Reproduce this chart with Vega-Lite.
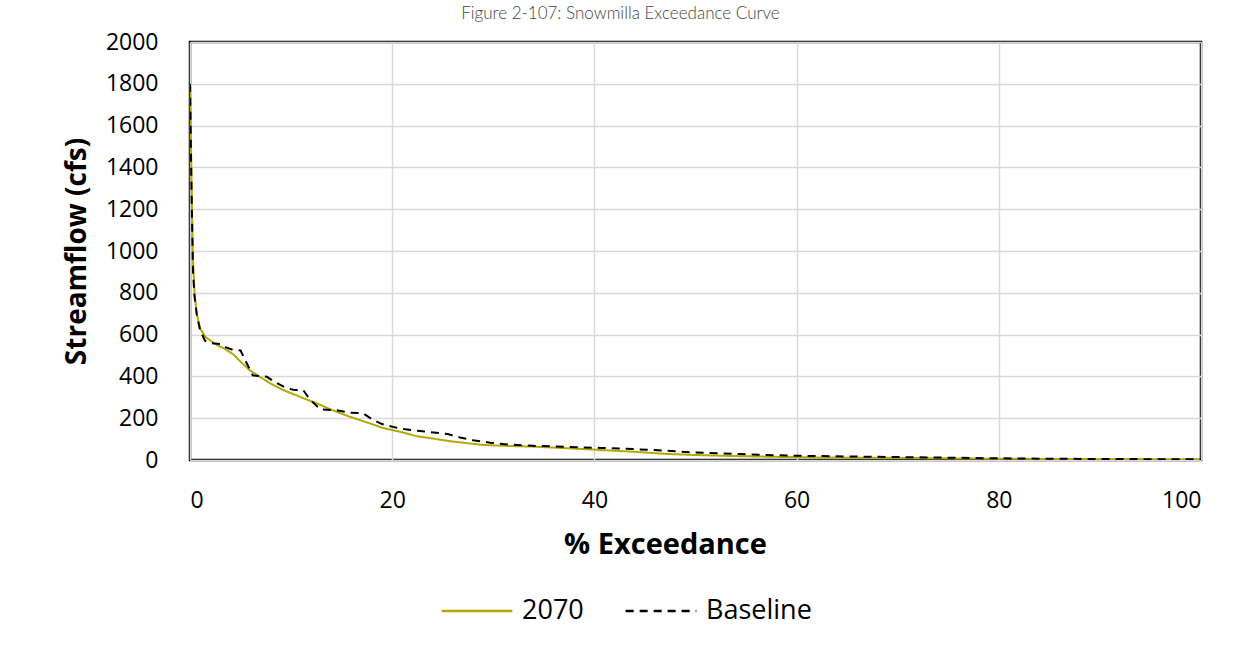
{
  "$schema": "https://vega.github.io/schema/vega-lite/v6.json",
  "width": 1011,
  "height": 418,
  "autosize": {"type": "none"},
  "padding": {"left": 190, "top": 42, "right": 43, "bottom": 190},
  "background": "white",
  "title": {
    "text": "Figure 2-107: Snowmilla Exceedance Curve",
    "anchor": "middle",
    "dx": -75,
    "offset": 8,
    "fontSize": 17,
    "font": "Lato",
    "fontWeight": 300,
    "color": "#444444"
  },
  "data": {
    "values": [
      {"x": 0, "y": 1780, "s": "2070"},
      {"x": 0.1, "y": 1500, "s": "2070"},
      {"x": 0.2, "y": 1200, "s": "2070"},
      {"x": 0.3, "y": 950, "s": "2070"},
      {"x": 0.45, "y": 800, "s": "2070"},
      {"x": 0.66, "y": 700, "s": "2070"},
      {"x": 1.0, "y": 630, "s": "2070"},
      {"x": 1.5, "y": 590, "s": "2070"},
      {"x": 2.5, "y": 555, "s": "2070"},
      {"x": 3.5, "y": 530, "s": "2070"},
      {"x": 4.3, "y": 505, "s": "2070"},
      {"x": 5.0, "y": 470, "s": "2070"},
      {"x": 5.9, "y": 430, "s": "2070"},
      {"x": 7.0, "y": 395, "s": "2070"},
      {"x": 8.0, "y": 365, "s": "2070"},
      {"x": 9.2, "y": 335, "s": "2070"},
      {"x": 10.5, "y": 310, "s": "2070"},
      {"x": 11.5, "y": 290, "s": "2070"},
      {"x": 12.5, "y": 272, "s": "2070"},
      {"x": 14, "y": 240, "s": "2070"},
      {"x": 15.8, "y": 207, "s": "2070"},
      {"x": 17.5, "y": 180, "s": "2070"},
      {"x": 19.1, "y": 153, "s": "2070"},
      {"x": 20.8, "y": 135, "s": "2070"},
      {"x": 22.4, "y": 114, "s": "2070"},
      {"x": 24, "y": 103, "s": "2070"},
      {"x": 25.7, "y": 90, "s": "2070"},
      {"x": 27.5, "y": 80, "s": "2070"},
      {"x": 29, "y": 72, "s": "2070"},
      {"x": 31, "y": 68, "s": "2070"},
      {"x": 33.9, "y": 64, "s": "2070"},
      {"x": 37, "y": 57, "s": "2070"},
      {"x": 40.6, "y": 48, "s": "2070"},
      {"x": 44, "y": 39, "s": "2070"},
      {"x": 47.2, "y": 29, "s": "2070"},
      {"x": 50, "y": 24, "s": "2070"},
      {"x": 53.7, "y": 19, "s": "2070"},
      {"x": 58, "y": 15, "s": "2070"},
      {"x": 62, "y": 12, "s": "2070"},
      {"x": 66, "y": 11, "s": "2070"},
      {"x": 70, "y": 10, "s": "2070"},
      {"x": 75, "y": 8, "s": "2070"},
      {"x": 80, "y": 6, "s": "2070"},
      {"x": 85, "y": 5, "s": "2070"},
      {"x": 90, "y": 4, "s": "2070"},
      {"x": 95, "y": 3, "s": "2070"},
      {"x": 100, "y": 2, "s": "2070"},
      {"x": 0, "y": 1800, "s": "Baseline"},
      {"x": 0.1, "y": 1450, "s": "Baseline"},
      {"x": 0.2, "y": 1150, "s": "Baseline"},
      {"x": 0.3, "y": 900, "s": "Baseline"},
      {"x": 0.45, "y": 780, "s": "Baseline"},
      {"x": 0.66, "y": 700, "s": "Baseline"},
      {"x": 1.0, "y": 620, "s": "Baseline"},
      {"x": 1.5, "y": 570, "s": "Baseline"},
      {"x": 2.0, "y": 560, "s": "Baseline"},
      {"x": 3.0, "y": 555, "s": "Baseline"},
      {"x": 3.5, "y": 540, "s": "Baseline"},
      {"x": 4.3, "y": 526, "s": "Baseline"},
      {"x": 5.0, "y": 524, "s": "Baseline"},
      {"x": 5.6, "y": 464, "s": "Baseline"},
      {"x": 6.2, "y": 405, "s": "Baseline"},
      {"x": 7.6, "y": 398, "s": "Baseline"},
      {"x": 8.5, "y": 370, "s": "Baseline"},
      {"x": 9.5, "y": 345, "s": "Baseline"},
      {"x": 10.2, "y": 336, "s": "Baseline"},
      {"x": 11.2, "y": 334, "s": "Baseline"},
      {"x": 11.9, "y": 287, "s": "Baseline"},
      {"x": 12.9, "y": 242, "s": "Baseline"},
      {"x": 14.5, "y": 238, "s": "Baseline"},
      {"x": 15.8, "y": 226, "s": "Baseline"},
      {"x": 17.1, "y": 224, "s": "Baseline"},
      {"x": 18.1, "y": 192, "s": "Baseline"},
      {"x": 19.0, "y": 172, "s": "Baseline"},
      {"x": 20.8, "y": 150, "s": "Baseline"},
      {"x": 22.5, "y": 140, "s": "Baseline"},
      {"x": 24.7, "y": 129, "s": "Baseline"},
      {"x": 25.5, "y": 124, "s": "Baseline"},
      {"x": 26.7, "y": 108, "s": "Baseline"},
      {"x": 28, "y": 95, "s": "Baseline"},
      {"x": 29.7, "y": 83, "s": "Baseline"},
      {"x": 31.5, "y": 74, "s": "Baseline"},
      {"x": 33.9, "y": 68, "s": "Baseline"},
      {"x": 37, "y": 63, "s": "Baseline"},
      {"x": 40.6, "y": 58, "s": "Baseline"},
      {"x": 44, "y": 52, "s": "Baseline"},
      {"x": 47.2, "y": 44, "s": "Baseline"},
      {"x": 50, "y": 36, "s": "Baseline"},
      {"x": 53.7, "y": 30, "s": "Baseline"},
      {"x": 57, "y": 24, "s": "Baseline"},
      {"x": 60.3, "y": 20, "s": "Baseline"},
      {"x": 65, "y": 17, "s": "Baseline"},
      {"x": 70, "y": 14, "s": "Baseline"},
      {"x": 75, "y": 11, "s": "Baseline"},
      {"x": 80, "y": 8, "s": "Baseline"},
      {"x": 85, "y": 6, "s": "Baseline"},
      {"x": 90, "y": 5, "s": "Baseline"},
      {"x": 95, "y": 4, "s": "Baseline"},
      {"x": 100, "y": 3, "s": "Baseline"}
    ]
  },
  "mark": {"type": "line", "strokeWidth": 2, "clip": true},
  "encoding": {
    "x": {
      "field": "x",
      "type": "quantitative",
      "scale": {"domain": [0, 100], "nice": false},
      "axis": {
        "values": [0, 20, 40, 60, 80, 100],
        "title": "% Exceedance",
        "titleFontSize": 29,
        "titleFont": "Open Sans",
        "titleFontWeight": "bold",
        "titleColor": "#000000",
        "titlePadding": 18,
        "titleX": 475,
        "titleAlign": "center",
        "labelFontSize": 23,
        "labelFont": "Open Sans",
        "labelColor": "#000000",
        "labelPadding": 29,
        "ticks": false,
        "domain": false,
        "gridColor": "#d9d9d9",
        "gridWidth": 1.5
      }
    },
    "y": {
      "field": "y",
      "type": "quantitative",
      "scale": {"domain": [0, 2000], "nice": false},
      "axis": {
        "values": [0, 200, 400, 600, 800, 1000, 1200, 1400, 1600, 1800, 2000],
        "format": "d",
        "title": "Streamflow (cfs)",
        "titleFontSize": 28,
        "titleFont": "Open Sans",
        "titleFontWeight": "bold",
        "titleColor": "#000000",
        "titlePadding": 14,
        "labelFontSize": 23,
        "labelFont": "Open Sans",
        "labelColor": "#000000",
        "labelPadding": 32,
        "ticks": false,
        "domain": false,
        "gridColor": "#d9d9d9",
        "gridWidth": 1.5
      }
    },
    "color": {
      "field": "s",
      "type": "nominal",
      "scale": {"domain": ["2070", "Baseline"], "range": ["#b3a900", "#000000"]},
      "legend": {
        "title": null,
        "orient": "none",
        "legendX": 250,
        "legendY": 532,
        "direction": "horizontal",
        "symbolType": "stroke",
        "symbolSize": 5000,
        "symbolStrokeWidth": 2.5,
        "labelFontSize": 27,
        "labelFont": "Open Sans",
        "labelColor": "#000000",
        "columnPadding": 36,
        "labelOffset": 8
      }
    },
    "strokeDash": {
      "field": "s",
      "type": "nominal",
      "scale": {"domain": ["2070", "Baseline"], "range": [[1, 0], [8, 6]]},
      "legend": {
        "title": null,
        "orient": "none",
        "legendX": 250,
        "legendY": 532,
        "direction": "horizontal",
        "symbolType": "stroke",
        "symbolSize": 5000,
        "symbolStrokeWidth": 2.5,
        "labelFontSize": 27,
        "labelFont": "Open Sans",
        "labelColor": "#000000",
        "columnPadding": 36,
        "labelOffset": 8
      }
    }
  },
  "config": {
    "view": {"stroke": "#000000", "strokeWidth": 2.5}
  }
}
